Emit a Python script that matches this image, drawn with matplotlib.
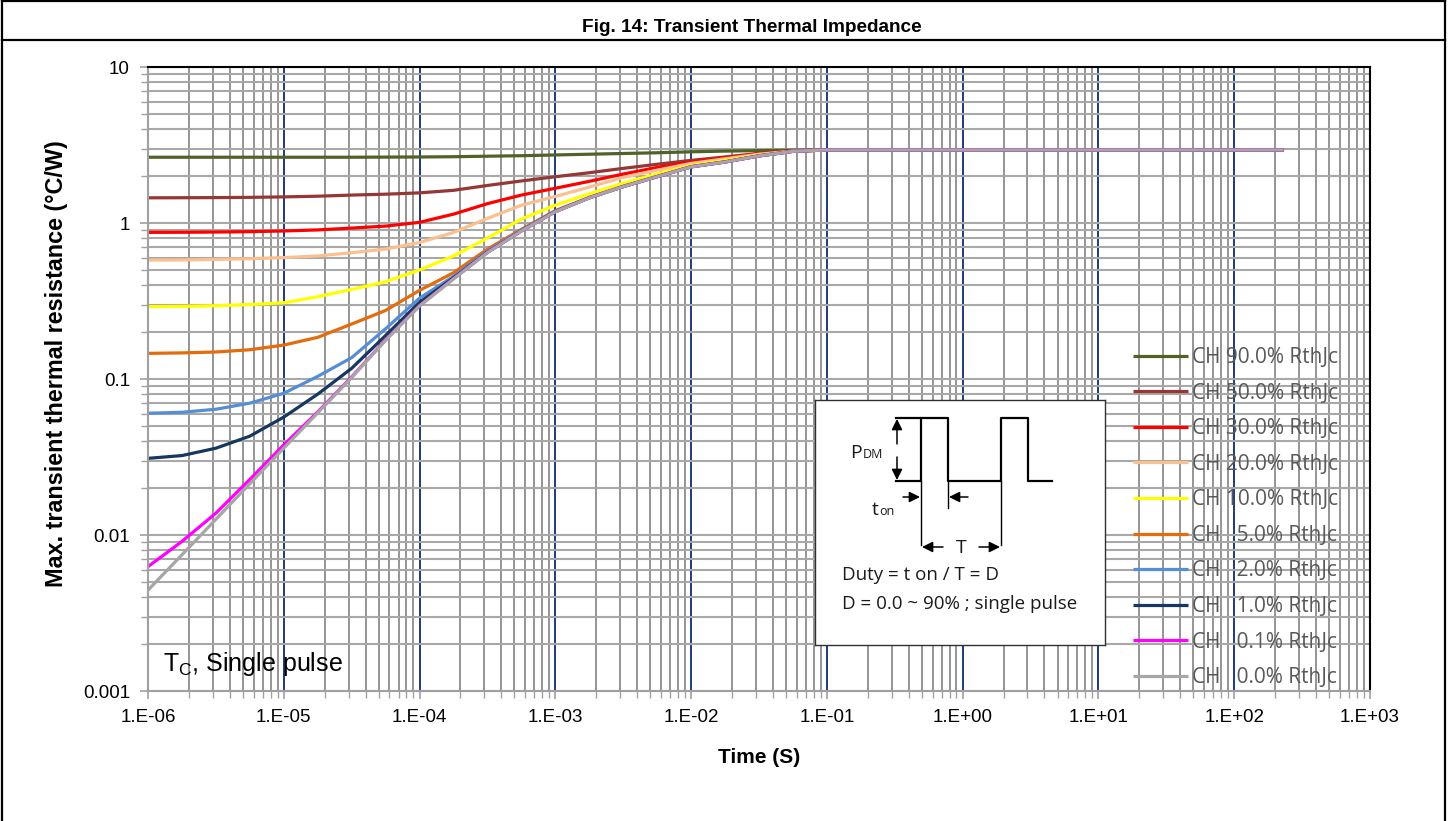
import matplotlib
matplotlib.use('Agg')
import matplotlib.pyplot as plt
from matplotlib.lines import Line2D
from matplotlib.ticker import FixedLocator, FixedFormatter, NullFormatter

# ---------------- data ----------------
time_s = [1e-6, 1.78e-6, 3.16e-6, 5.62e-6, 1e-5, 1.78e-5, 3.16e-5, 5.62e-5,
          1e-4, 1.78e-4, 3.16e-4, 5.62e-4, 1e-3, 1.78e-3, 3.16e-3, 5.62e-3,
          1e-2, 1.78e-2, 3.16e-2, 5.62e-2, 1e-1, 1.0, 10.0, 100.0, 230.0]

z_d90 = [2.64, 2.64, 2.64, 2.64, 2.64, 2.64, 2.64, 2.645, 2.65, 2.66, 2.68, 2.70, 2.73,
         2.76, 2.79, 2.82, 2.86, 2.89, 2.91, 2.93, 2.94, 2.94, 2.94, 2.94, 2.94]
z_d50 = [1.45, 1.452, 1.455, 1.46, 1.47, 1.485, 1.51, 1.53, 1.56, 1.62, 1.74, 1.86, 1.98,
         2.10, 2.24, 2.38, 2.52, 2.65, 2.79, 2.90, 2.94, 2.94, 2.94, 2.94, 2.94]
z_d30 = [0.871, 0.872, 0.875, 0.880, 0.889, 0.903, 0.928, 0.955, 1.01, 1.14, 1.33, 1.51, 1.67,
         1.85, 2.06, 2.27, 2.46, 2.62, 2.78, 2.90, 2.94, 2.94, 2.94, 2.94, 2.94]
z_d20 = [0.579, 0.580, 0.584, 0.590, 0.600, 0.615, 0.645, 0.68, 0.75, 0.87, 1.07, 1.30, 1.48,
         1.70, 1.96, 2.18, 2.41, 2.58, 2.76, 2.89, 2.94, 2.94, 2.94, 2.94, 2.94]
z_d10 = [0.291, 0.292, 0.295, 0.300, 0.308, 0.337, 0.375, 0.42, 0.50, 0.615, 0.80, 1.06, 1.30,
         1.54, 1.80, 2.06, 2.34, 2.52, 2.72, 2.88, 2.94, 2.94, 2.94, 2.94, 2.94]
z_d05 = [0.146, 0.147, 0.149, 0.154, 0.165, 0.185, 0.225, 0.275, 0.37, 0.48, 0.68, 0.91, 1.20,
         1.46, 1.72, 1.99, 2.30, 2.47, 2.70, 2.88, 2.94, 2.94, 2.94, 2.94, 2.94]
z_d02 = [0.0603, 0.0612, 0.064, 0.070, 0.081, 0.104, 0.137, 0.21, 0.33, 0.455, 0.66, 0.90, 1.19,
         1.455, 1.715, 1.985, 2.295, 2.465, 2.695, 2.88, 2.94, 2.94, 2.94, 2.94, 2.94]
z_d01 = [0.0310, 0.0323, 0.036, 0.043, 0.057, 0.080, 0.117, 0.19, 0.31, 0.445, 0.65, 0.89, 1.185,
         1.45, 1.71, 1.98, 2.29, 2.46, 2.69, 2.88, 2.94, 2.94, 2.94, 2.94, 2.94]
z_d001 = [0.00627, 0.0091, 0.0138, 0.0227, 0.0378, 0.0615, 0.103, 0.178, 0.295, 0.44, 0.647, 0.889, 1.18,
          1.45, 1.71, 1.98, 2.29, 2.46, 2.69, 2.88, 2.94, 2.94, 2.94, 2.94, 2.94]
z_d0 = [0.00443, 0.00747, 0.0126, 0.0213, 0.0360, 0.0607, 0.102, 0.177, 0.294, 0.438, 0.646, 0.888, 1.18,
        1.45, 1.71, 1.98, 2.29, 2.46, 2.69, 2.88, 2.94, 2.94, 2.94, 2.94, 2.94]

series_labels = ["CH 90.0% RthJc", "CH 50.0% RthJc", "CH 30.0% RthJc", "CH 20.0% RthJc",
                 "CH 10.0% RthJc", "CH   5.0% RthJc", "CH   2.0% RthJc", "CH   1.0% RthJc",
                 "CH   0.1% RthJc", "CH   0.0% RthJc"]
series_values = [z_d90, z_d50, z_d30, z_d20, z_d10, z_d05, z_d02, z_d01, z_d001, z_d0]
series_colors = ["#4F6228", "#953735", "#FF0000", "#FAC090", "#FFFF00",
                 "#E46C0A", "#558ED5", "#17375E", "#FF00FF", "#A6A6A6"]

x_major = [1e-6, 1e-5, 1e-4, 1e-3, 1e-2, 1e-1, 1e0, 1e1, 1e2, 1e3]
x_labels = ["1.E-06", "1.E-05", "1.E-04", "1.E-03", "1.E-02", "1.E-01",
            "1.E+00", "1.E+01", "1.E+02", "1.E+03"]
y_major = [0.001, 0.01, 0.1, 1, 10]
y_labels = ["0.001", "0.01", "0.1", "1", "10"]

# ---------------- figure ----------------
plt.rcParams['font.family'] = ['Liberation Sans', 'DejaVu Sans']
W, H = 1453, 821
fig = plt.figure(figsize=(W / 100, H / 100), dpi=100)
fig.patch.set_facecolor('white')

ax = fig.add_axes([148 / W, (H - 691) / H, 1222 / W, 624 / H])
ax.set_xscale('log')
ax.set_yscale('log')
ax.set_xlim(1e-6, 1e3)
ax.set_ylim(1e-3, 10)

minor_x = [m * 10.0 ** e for e in range(-6, 3) for m in range(2, 10)]
minor_y = [m * 10.0 ** e for e in range(-3, 1) for m in range(2, 10)]
ax.xaxis.set_major_locator(FixedLocator(x_major))
ax.xaxis.set_major_formatter(FixedFormatter(x_labels))
ax.xaxis.set_minor_locator(FixedLocator(minor_x))
ax.xaxis.set_minor_formatter(NullFormatter())
ax.yaxis.set_major_locator(FixedLocator(y_major))
ax.yaxis.set_major_formatter(FixedFormatter(y_labels))
ax.yaxis.set_minor_locator(FixedLocator(minor_y))
ax.yaxis.set_minor_formatter(NullFormatter())

ax.grid(which='major', axis='x', color='#1F3A7A', lw=1.4)
ax.grid(which='minor', axis='x', color='#8C8C8C', lw=1.3)
ax.grid(which='both', axis='y', color='#A8A8A8', lw=1.5)
ax.set_axisbelow(True)

ax.tick_params(which='both', direction='out', color='#A0A0A0', labelsize=13.5)
ax.tick_params(which='major', length=6, width=1.2, pad=7)
ax.tick_params(which='minor', length=5, width=1.0)
for s in ['left', 'bottom']:
    ax.spines[s].set_color('#A0A0A0')
    ax.spines[s].set_linewidth(1.5)
for s in ['top', 'right']:
    ax.spines[s].set_color('black')
    ax.spines[s].set_linewidth(1.5)

for vals, lab, col in zip(series_values, series_labels, series_colors):
    ax.plot(time_s, vals, color=col, lw=2.3, label=lab, solid_capstyle='butt')

ax.set_xlabel("Time (S)", fontsize=15, fontweight='bold', labelpad=16)
ax.set_ylabel("Max. transient thermal resistance (°C/W)", fontsize=16.8,
              fontweight='bold')
ax.yaxis.set_label_coords((68 - 148) / 1222, (691 - 364) / 624)

ax.text((163 - 148) / 1222, (691 - 664) / 624, r"T$_\mathregular{C}$, Single pulse",
        transform=ax.transAxes, fontsize=18, va='center', ha='left')

leg = ax.legend(loc='upper left', bbox_to_anchor=(1133 / W, 1 - 347 / H),
                bbox_transform=fig.transFigure, frameon=False, borderpad=0,
                borderaxespad=0, handlelength=2.65, handletextpad=0.2,
                labelspacing=0.7, prop={'family': ['Open Sans', 'DejaVu Sans'], 'size': 15})
for t in leg.get_texts():
    t.set_color('#595959')

# ---------------- title frame ----------------
fig.text(752 / W, 1 - 27 / H, "Fig. 14: Transient Thermal Impedance", ha='center',
         va='center', fontsize=13.7, fontweight='bold')
frame_kw = dict(color='black', lw=1.6, transform=fig.transFigure)
fig.add_artist(Line2D([1.5 / W, 1445 / W], [1 - 1.5 / H, 1 - 1.5 / H], **frame_kw))
fig.add_artist(Line2D([1.5 / W, 1445 / W], [1 - 40.5 / H, 1 - 40.5 / H], **frame_kw))
fig.add_artist(Line2D([1.5 / W, 1.5 / W], [0, 1 - 1.5 / H], **frame_kw))
fig.add_artist(Line2D([1445 / W, 1445 / W], [0, 1 - 1.5 / H], **frame_kw))

# ---------------- duty cycle inset ----------------
ix = fig.add_axes([815 / W, (H - 645) / H, 290 / W, 245 / H])
ix.set_xlim(0, 290)
ix.set_ylim(245, 0)
ix.set_xticks([])
ix.set_yticks([])
ix.set_facecolor('white')
for s in ix.spines.values():
    s.set_color('#303030')
    s.set_linewidth(1.0)

wave_x = [81, 106, 106, 133, 133, 186, 186, 213, 213, 237]
wave_y = [81, 81, 18, 18, 81, 81, 18, 18, 81, 81]
ix.plot(wave_x, wave_y, color='black', lw=1.6)
ix.plot([81, 106], [18, 18], color='black', lw=1.6)
ix.plot([106, 106], [81, 145], color='black', lw=1.0)
ix.plot([133, 133], [81, 108], color='black', lw=1.0)
ix.plot([186, 186], [81, 145], color='black', lw=1.0)

arr = dict(arrowstyle='-|>', color='black', lw=1.1, mutation_scale=16, shrinkA=0, shrinkB=0)
ix.annotate('', xy=(82, 19), xytext=(82, 44), arrowprops=arr)
ix.annotate('', xy=(82, 80), xytext=(82, 57), arrowprops=arr)
ix.annotate('', xy=(105, 97), xytext=(88, 97), arrowprops=arr)
ix.annotate('', xy=(134, 97), xytext=(153, 97), arrowprops=arr)
ix.annotate('', xy=(107, 147), xytext=(128, 147), arrowprops=arr)
ix.annotate('', xy=(185, 147), xytext=(164, 147), arrowprops=arr)

txt_kw = dict(family=['Open Sans', 'DejaVu Sans'], color='#1A1A1A')
ix.text(35, 58, "P", fontsize=14, va='baseline', **txt_kw)
ix.text(48, 58, "DM", fontsize=9, va='baseline', **txt_kw)
ix.text(57, 115, "t", fontsize=14, va='baseline', **txt_kw)
ix.text(64, 115, "on", fontsize=9, va='baseline', **txt_kw)
ix.text(146, 148, "T", fontsize=14, va='center', ha='center', **txt_kw)
ix.text(27, 175, "Duty = t on / T = D", fontsize=13.5, va='center', ha='left', **txt_kw)
ix.text(27, 204, "D = 0.0 ~ 90% ; single pulse", fontsize=13.5, va='center', ha='left', **txt_kw)

fig.savefig("out.png", dpi=100, facecolor='white')
